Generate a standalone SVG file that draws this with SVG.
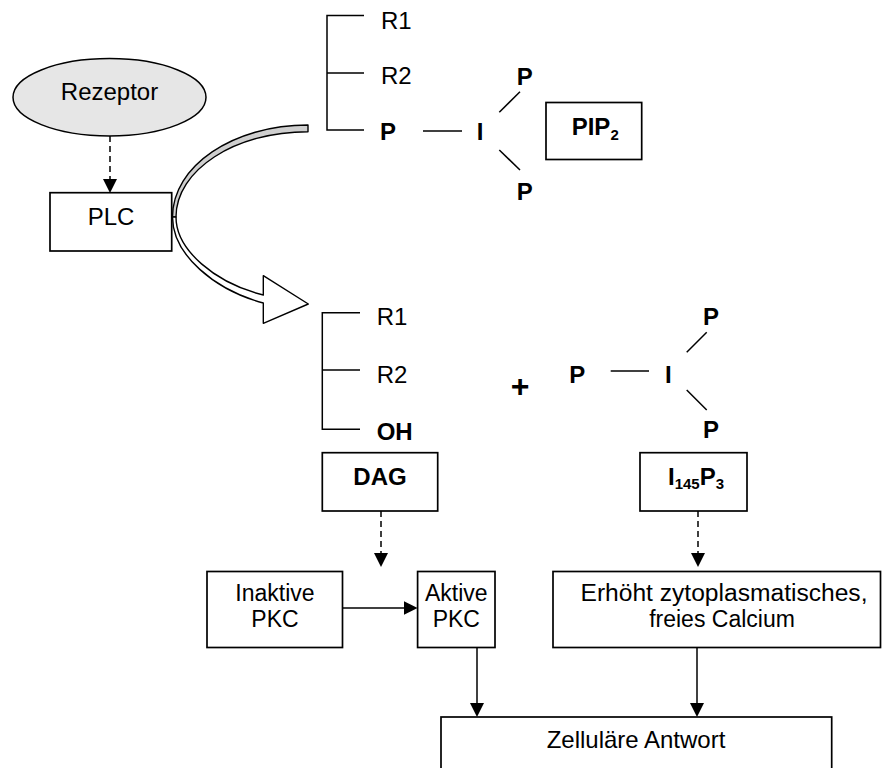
<svg xmlns="http://www.w3.org/2000/svg" width="883" height="768" viewBox="0 0 883 768">
<defs>
<style>
.box{fill:#fff;stroke:#000;stroke-width:1.7}
.ln{stroke:#000;stroke-width:1.5;fill:none}
.t{font-family:"Liberation Sans",Arial,Helvetica,sans-serif;font-size:24px;fill:#000}
.t2{font-size:23px}
.b{font-weight:bold}
.m{text-anchor:middle}
.dash{stroke-dasharray:6 4}
.sub{font-size:15px}
</style>
<marker id="ah" viewBox="0 0 14 14" refX="11" refY="7" markerWidth="14" markerHeight="14" markerUnits="userSpaceOnUse" orient="auto">
<path d="M0,0 L14,7 L0,14 z" fill="#000"/>
</marker>
</defs>
<rect width="883" height="768" fill="#fff"/>

<g id="connectors">
<line class="ln dash" x1="110" y1="136" x2="110" y2="190" marker-end="url(#ah)"/>
<line class="ln dash" x1="381" y1="511" x2="381" y2="564" marker-end="url(#ah)"/>
<line class="ln dash" x1="698" y1="511" x2="698" y2="564" marker-end="url(#ah)"/>
<line class="ln" x1="342.5" y1="608" x2="414.6" y2="608" marker-end="url(#ah)"/>
<line class="ln" x1="477" y1="647.5" x2="477" y2="714" marker-end="url(#ah)"/>
<line class="ln" x1="697" y1="647.5" x2="697" y2="714" marker-end="url(#ah)"/>
<g id="curved-arrow" stroke="#000" stroke-width="1.4" stroke-linejoin="round">
<path d="M308,125 C233,125 172.5,166 172.5,217 L176,217 C176,170 235,131.7 308,131.7 Z" fill="#cfcfcf"/>
<path d="M176,217 C176,250 215,283 263.3,295 L263.3,275.7 L308.3,304 L263.3,323.3 L263.3,303 C215,290 172.5,255 172.5,217 Z" fill="#fff"/>
</g>
</g>

<g id="rezeptor">
<ellipse cx="109.5" cy="97.3" rx="96.5" ry="38.7" fill="#e6e6e6" stroke="#000" stroke-width="1.5"/>
<text class="t m" x="109.5" y="100">Rezeptor</text>
</g>

<g id="plc">
<rect class="box" x="50" y="192.7" width="121.7" height="58.3"/>
<text class="t m" x="111" y="225">PLC</text>
</g>

<g id="pip2-structure">
<path class="ln" d="M364,15.5 H327 V130 H364 M327,73 H364"/>
<text class="t" x="381" y="28.5">R1</text>
<text class="t" x="381" y="84">R2</text>
<text class="t b" x="380" y="140">P</text>
<line class="ln" x1="423" y1="131" x2="462" y2="131"/>
<text class="t b" x="476.7" y="140">I</text>
<line class="ln" x1="499.3" y1="112.3" x2="520" y2="91.7"/>
<line class="ln" x1="499.3" y1="150" x2="520" y2="170"/>
<text class="t b" x="516.7" y="85">P</text>
<text class="t b" x="516.7" y="200">P</text>
</g>

<g id="pip2">
<rect class="box" x="546" y="102.5" width="95.7" height="57"/>
<text class="t b" x="571.7" y="135">PIP<tspan class="sub" dy="5">2</tspan></text>
</g>

<g id="dag-structure">
<path class="ln" d="M360,312.7 H322.3 V429.3 H360 M322.3,370 H360"/>
<text class="t" x="376.7" y="325">R1</text>
<text class="t" x="376.7" y="382.7">R2</text>
<text class="t b" x="376.7" y="440">OH</text>
</g>

<g id="dag">
<rect class="box" x="322.3" y="452.7" width="115.4" height="58.3"/>
<text class="t b m" x="380" y="485">DAG</text>
</g>

<g id="plus">
<text class="t b m" x="520" y="397" style="font-size:32px">+</text>
</g>

<g id="ip3-structure">
<text class="t b" x="569.3" y="383.3">P</text>
<line class="ln" x1="610.7" y1="371" x2="649" y2="371"/>
<text class="t b" x="665" y="383">I</text>
<line class="ln" x1="686.7" y1="352.3" x2="706.7" y2="332.3"/>
<line class="ln" x1="686.7" y1="390" x2="706.7" y2="410"/>
<text class="t b" x="703" y="325">P</text>
<text class="t b" x="703" y="438.3">P</text>
</g>

<g id="ip3">
<rect class="box" x="640" y="452.7" width="107" height="58.3"/>
<text class="t b" x="668" y="485">I<tspan class="sub" dy="4">145</tspan><tspan dy="-4">P</tspan><tspan class="sub" dy="4">3</tspan></text>
</g>

<g id="inaktive-pkc">
<rect class="box" x="207" y="571.5" width="135.5" height="76"/>
<text class="t t2 m" x="275" y="601">Inaktive</text>
<text class="t t2 m" x="275" y="627">PKC</text>
</g>

<g id="aktive-pkc">
<rect class="box" x="417.6" y="571.5" width="77.4" height="76"/>
<text class="t t2 m" x="456.3" y="601">Aktive</text>
<text class="t t2 m" x="456.3" y="627">PKC</text>
</g>

<g id="calcium">
<rect class="box" x="553" y="571.5" width="327.5" height="76"/>
<text class="t t2 m" x="724" y="601" textLength="287" lengthAdjust="spacingAndGlyphs">Erhöht zytoplasmatisches,</text>
<text class="t t2 m" x="722" y="627">freies Calcium</text>
</g>

<g id="antwort">
<rect class="box" x="441" y="717" width="390.7" height="70"/>
<text class="t m" x="636" y="748">Zelluläre Antwort</text>
</g>
</svg>
